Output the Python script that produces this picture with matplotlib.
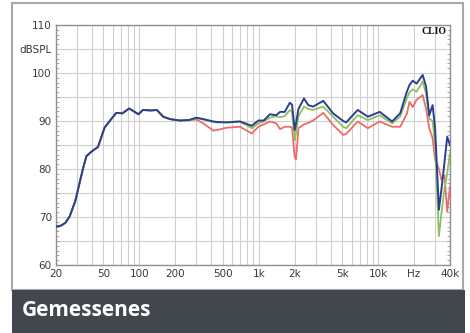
import matplotlib
matplotlib.use("Agg")
import matplotlib.pyplot as plt
from matplotlib.patches import Rectangle
from matplotlib.ticker import FixedLocator, LogLocator, MultipleLocator, NullFormatter

# frequency points (Hz) and levels (dB SPL)
freq = [20, 22, 24, 26, 29, 32, 34, 36, 40, 45, 51, 58, 64, 72, 82, 90, 98, 107,
        125, 140, 158, 180, 218, 260, 300, 343, 416, 444, 536, 696, 874, 993,
        1100, 1240, 1400, 1508, 1650, 1820, 1900, 2000, 2050, 2150, 2390, 2600,
        2850, 3470, 4190, 5100, 5400, 6740, 8200, 10300, 13100, 15300, 17400,
        18300, 19500, 21000, 23600, 25200, 26800, 28600, 30000, 32300, 34000,
        36000, 37900, 40000]

blue = [68.0, 68.2, 68.8, 70.1, 73.3, 77.8, 80.5, 82.7, 83.7, 84.6, 88.6, 90.4,
        91.7, 91.6, 92.6, 92.0, 91.4, 92.3, 92.2, 92.3, 90.9, 90.4, 90.1, 90.2,
        90.7, 90.4, 89.9, 89.8, 89.7, 89.9, 89.0, 90.1, 90.1, 91.4, 91.2, 91.9,
        91.9, 93.8, 93.4, 88.1, 89.5, 92.5, 94.7, 93.3, 93.0, 94.2, 91.6, 90.0,
        89.7, 92.3, 90.9, 91.9, 89.9, 91.6, 96.1, 97.5, 98.4, 97.8, 99.6, 97.2,
        91.2, 93.3, 88.5, 71.5, 76.0, 81.5, 86.7, 85.0]

green = [68.0, 68.2, 68.8, 70.1, 73.3, 77.8, 80.5, 82.7, 83.7, 84.6, 88.6, 90.4,
         91.7, 91.6, 92.6, 92.0, 91.4, 92.3, 92.2, 92.3, 90.9, 90.4, 90.1, 90.2,
         90.6, 90.3, 89.8, 89.7, 89.8, 89.9, 88.5, 89.5, 89.9, 90.7, 91.0, 90.8,
         91.0, 92.3, 91.9, 86.0, 87.5, 91.0, 93.0, 92.5, 92.3, 93.0, 90.9, 88.8,
         88.5, 91.2, 90.2, 91.2, 89.5, 90.9, 94.7, 96.0, 96.6, 96.1, 98.2, 95.8,
         90.5, 90.0, 85.0, 66.0, 71.0, 76.0, 79.0, 83.3]

red = [68.0, 68.2, 68.8, 70.1, 73.3, 77.8, 80.5, 82.7, 83.7, 84.6, 88.6, 90.4,
       91.7, 91.6, 92.6, 92.0, 91.4, 92.3, 92.2, 92.3, 90.9, 90.4, 90.1, 90.2,
       90.3, 89.5, 88.0, 88.1, 88.6, 88.8, 87.4, 88.8, 89.3, 89.9, 89.5, 88.3,
       88.8, 88.8, 88.6, 82.5, 82.0, 88.5, 89.3, 89.6, 90.1, 91.7, 89.2, 87.1,
       87.3, 89.9, 88.5, 89.9, 88.8, 88.8, 91.5, 94.0, 92.9, 94.4, 95.4, 92.6,
       88.5, 86.4, 82.0, 80.0, 77.7, 78.7, 71.1, 76.3]

x_ticks = [20, 50, 100, 200, 500, 1000, 2000, 5000, 10000, 20000, 40000]
x_labels = ["20", "50", "100", "200", "500", "1k", "2k", "5k", "10k", "Hz", "40k"]
y_ticks = [60, 70, 80, 90, 100, 105, 110]
y_labels = ["60", "70", "80", "90", "100", "dBSPL", "110"]

W, H = 470, 333
fig = plt.figure(figsize=(W / 100, H / 100), dpi=100)
fig.patch.set_facecolor("white")

# outer frame and title banner
fig.patches.append(Rectangle((12 / W, 1 - 290 / H), 451 / W, 287 / H,
                             transform=fig.transFigure, fill=False,
                             edgecolor="#a8a8a8", linewidth=1.5))
fig.patches.append(Rectangle((12 / W, 0), 453 / W, 43 / H,
                             transform=fig.transFigure, facecolor="#42464d",
                             edgecolor="none"))
fig.text(22 / W, 1 - 310 / H, "Gemessenes", color="white", fontsize=15,
         fontweight="bold", family=["Open Sans", "DejaVu Sans"], va="center")

ax = fig.add_axes([56 / W, 1 - 265 / H, 394 / W, 240 / H])
ax.set_xscale("log")
ax.set_xlim(20, 40000)
ax.set_ylim(60, 110)

ax.plot(freq, red, color="#ef6b6b", lw=1.3, zorder=3)
ax.plot(freq, green, color="#8cc061", lw=1.3, zorder=4)
ax.plot(freq, blue, color="#2c3f8f", lw=1.4, zorder=5)

ax.xaxis.set_major_locator(FixedLocator(x_ticks))
ax.set_xticklabels(x_labels)
ax.xaxis.set_minor_locator(LogLocator(base=10, subs=range(1, 10), numticks=20))
ax.xaxis.set_minor_formatter(NullFormatter())
ax.yaxis.set_major_locator(FixedLocator(y_ticks))
ax.set_yticklabels(y_labels)
ax.yaxis.set_minor_locator(MultipleLocator(1))

# vertical grid on every log step, horizontal every 5 dB
ax.grid(True, which="both", axis="x", color="#cfcfcf", lw=0.8)
for v in range(60, 111, 5):
    ax.axhline(v, color="#cfcfcf", lw=0.8, zorder=1)

ax.tick_params(axis="both", which="major", length=0, labelsize=7.5,
               labelcolor="#3a3a3a", pad=3)
ax.tick_params(axis="x", which="minor", length=0)
ax.tick_params(axis="y", which="minor", length=2, color="#999999",
               left=True, right=True, direction="in")
for s in ax.spines.values():
    s.set_color("#8f8f8f")
    s.set_linewidth(1.0)

ax.text(0.992, 0.975, "CLIO", transform=ax.transAxes, ha="right", va="center",
        fontsize=7, fontweight="bold", family=["Liberation Serif", "DejaVu Serif"],
        color="#111111", zorder=6)

fig.savefig("out.png", dpi=100, facecolor="white")
